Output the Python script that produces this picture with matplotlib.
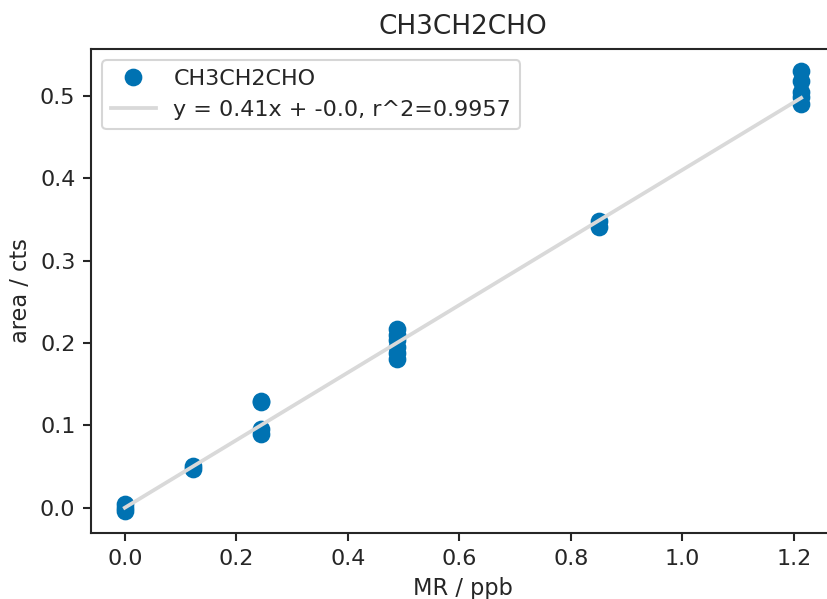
import matplotlib
matplotlib.use("Agg")
import matplotlib.pyplot as plt
import numpy as np

title = "CH3CH2CHO"
mr = [0.0, 0.0, 0.0,
      0.122, 0.122,
      0.244, 0.244, 0.244, 0.244,
      0.488, 0.488, 0.488, 0.488, 0.488, 0.488,
      0.85, 0.85,
      1.213, 1.213, 1.213, 1.213, 1.213]
area = [0.004, 0.0, -0.004,
        0.051, 0.047,
        0.130, 0.128, 0.095, 0.089,
        0.217, 0.210, 0.203, 0.195, 0.188, 0.180,
        0.348, 0.341,
        0.530, 0.518, 0.505, 0.498, 0.490]
slope = 0.41
intercept = -0.0
fit_label = "y = 0.41x + -0.0, r^2=0.9957"

plt.rcParams['font.family'] = ['DejaVu Sans']
plt.rcParams['text.color'] = '#262626'
plt.rcParams['axes.labelcolor'] = '#262626'
plt.rcParams['xtick.color'] = '#262626'
plt.rcParams['ytick.color'] = '#262626'

fig = plt.figure(figsize=(827/150, 599/150), dpi=150)
ax = fig.add_axes([91/827, 66/599, (835-91)/827, (533-49)/599])

ax.plot(mr, area, 'o', color='#0072B2', markersize=7.5, label=title, zorder=3)
xs = np.array([min(mr), max(mr)])
ax.plot(xs, slope * xs + intercept, color='#d9d9d9', lw=1.8, label=fit_label, zorder=4)

for s in ax.spines.values():
    s.set_color('#262626')
    s.set_linewidth(1.0)
ax.tick_params(labelsize=10.7, direction='out', length=4, width=1)
ax.set_xlabel("MR / ppb", fontsize=10.8, labelpad=4)
ax.set_ylabel("area / cts", fontsize=10.8)
ax.set_title(title, fontsize=12.6, pad=7)
ax.set_xticks([0.0, 0.2, 0.4, 0.6, 0.8, 1.0, 1.2])
ax.set_yticks([0.0, 0.1, 0.2, 0.3, 0.4, 0.5])
leg = ax.legend(loc='upper left', fontsize=10.7, frameon=True)
leg.get_frame().set_edgecolor('#cccccc')

fig.savefig("out.png", dpi=150)
